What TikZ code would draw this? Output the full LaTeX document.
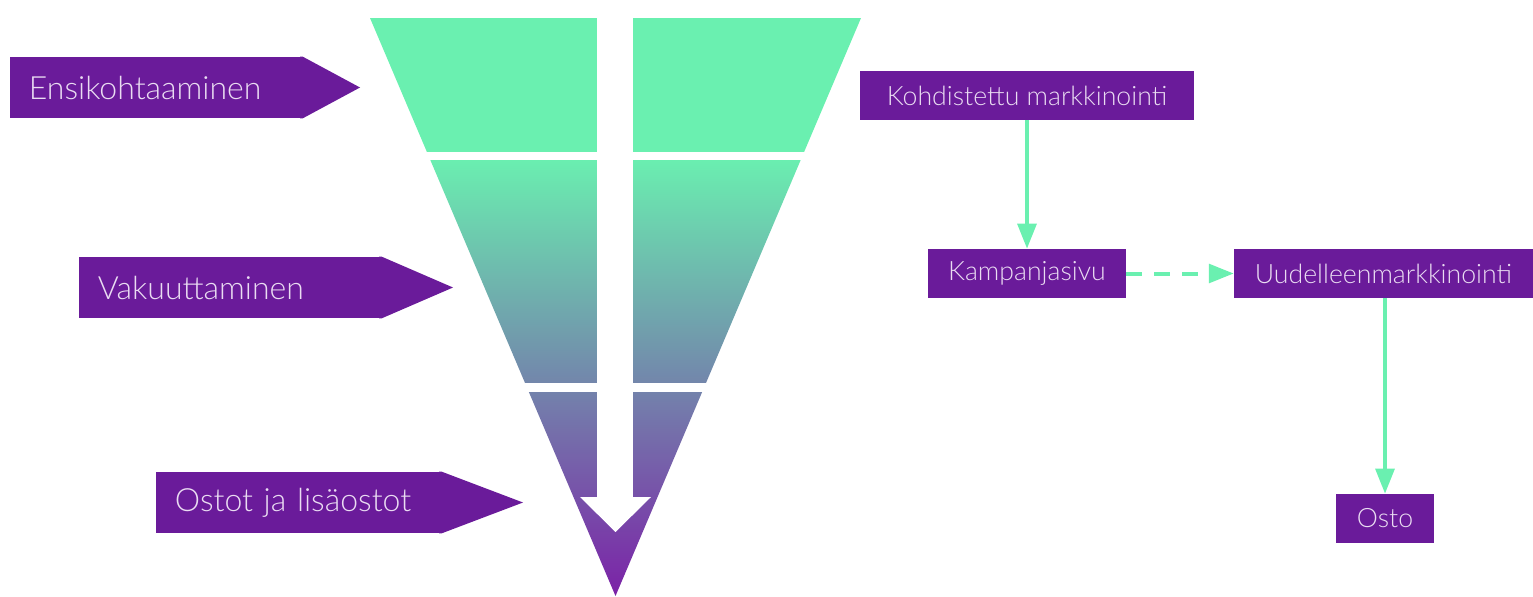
\documentclass[tikz,border=0pt]{standalone}
\usepackage{fontspec}
\setmainfont{Lato Light}
\usetikzlibrary{arrows.meta}
\definecolor{fgreen}{HTML}{6AF0B0}
\definecolor{fpurple}{HTML}{7B22A7}
\definecolor{bpurple}{HTML}{6A1B9A}
\definecolor{btext}{HTML}{EADCF2}
\tikzset{
  lbox/.style={fill=bpurple, text=btext, anchor=west, minimum height=45.75pt,
    inner xsep=14pt, inner ysep=0pt, align=left, font=\fontsize{24}{28}\selectfont},
  rbox/.style={fill=bpurple, text=btext, minimum height=36.75pt, inner sep=0pt,
    font=\fontsize{20}{24}\selectfont},
  conn/.style={draw=fgreen, line width=3pt,
    -{Triangle[length=18.75pt,width=14pt]}, shorten >=0pt},
}
\begin{document}
\begin{tikzpicture}[x=0.75pt,y=-0.75pt]
\useasboundingbox (0,0) rectangle (1533,596);
% funnel
\begin{scope}
  \clip (370,18) -- (861,18) -- (615.5,596) -- cycle;
  \fill[fgreen] (300,0) rectangle (900,157);
  \shade[top color=fgreen, bottom color=fpurple] (300,156) rectangle (900,596);
\end{scope}
\fill[white] (300,152) rectangle (900,160);
\fill[white] (300,383) rectangle (900,392);
\fill[white] (597,10) rectangle (633,497.5);
\fill[white] (580,497) -- (651,497) -- (615.5,532) -- cycle;
% left labels
\node[lbox, text width=191.25pt] (e) at (10,87.5) {Ensikohtaaminen};
\fill[bpurple] ([xshift=-2pt]e.north east) -- (e.north east) -- (360,87.5) -- (e.south east) -- ([xshift=-2pt]e.south east) -- cycle;
\node[lbox, text width=198.75pt] (v) at (79,287.5) {Vakuuttaminen};
\fill[bpurple] ([xshift=-2pt]v.north east) -- (v.north east) -- (453,287.5) -- (v.south east) -- ([xshift=-2pt]v.south east) -- cycle;
\node[lbox, text width=186pt] (o) at (156,502.5) {Ostot ja lisäostot};
\fill[bpurple] ([xshift=-2pt]o.north east) -- (o.north east) -- (523,502.5) -- (o.south east) -- ([xshift=-2pt]o.south east) -- cycle;
% right flow
\node[rbox, minimum width=250.5pt] (k) at (1027,95.5) {Kohdistettu markkinointi};
\node[rbox, minimum width=148.5pt] (c) at (1027,273.5) {Kampanjasivu};
\node[rbox, minimum width=224.25pt] (u) at (1383.5,273.5) {Uudelleenmarkkinointi};
\node[rbox, minimum width=73.5pt] (p) at (1385,518.5) {Osto};
\draw[conn] (k.south) -- (c.north);
\draw[conn, dash pattern=on 12pt off 9pt] (c.east) -- (u.west);
\draw[conn] (u.south -| p.north) -- (p.north);
\end{tikzpicture}
\end{document}
